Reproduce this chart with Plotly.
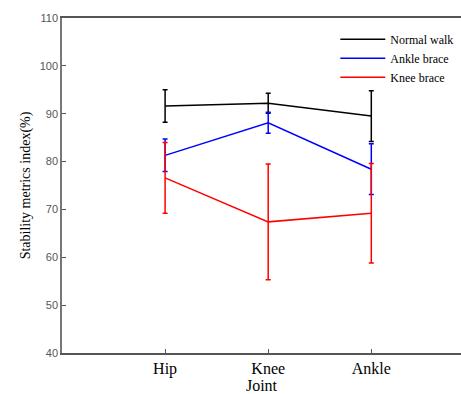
import plotly.graph_objects as go

joints = ["Hip", "Knee", "Ankle"]
x_pos = [1, 2, 3]

normal_mean = [91.6, 92.2, 89.5]
normal_err = [3.4, 2.1, 5.3]
ankle_mean = [81.3, 88.1, 78.4]
ankle_err = [3.4, 2.2, 5.3]
knee_mean = [76.6, 67.4, 69.2]
knee_err = [7.4, 12.1, 10.4]

series = [
    ("Normal walk", normal_mean, normal_err, "#000000"),
    ("Ankle brace", ankle_mean, ankle_err, "#0000ff"),
    ("Knee brace", knee_mean, knee_err, "#ff0000"),
]

fig = go.Figure()
for name, m, e, c in series:
    fig.add_trace(go.Scatter(
        x=x_pos, y=m, name=name, mode="lines",
        line=dict(color=c, width=1.5),
        error_y=dict(type="data", array=e, visible=True, color=c,
                     thickness=1.5, width=2.5),
    ))

serif = "Liberation Serif"
sans = "Liberation Sans"

fig.update_layout(
    width=461, height=394,
    margin=dict(l=62, r=0, t=18, b=41),
    paper_bgcolor="white", plot_bgcolor="white",
    font=dict(family=serif, size=12, color="#000"),
    showlegend=True,
    legend=dict(x=0.685, y=0.98, xanchor="left", yanchor="top",
                font=dict(family=serif, size=12, color="#000"),
                itemwidth=45,
                bgcolor="rgba(0,0,0,0)", borderwidth=0),
    xaxis=dict(range=[0, 3.87], tickvals=x_pos, ticktext=joints,
               ticks="inside", ticklen=4, tickcolor="#555",
               showline=True, linecolor="#555", linewidth=1.5, mirror=True,
               showgrid=False, zeroline=False,
               tickfont=dict(family=serif, size=16, color="#000"),
               title=dict(text="Joint", font=dict(family=serif, size=16, color="#000"),
                          standoff=2)),
    yaxis=dict(range=[40, 110], tickvals=[40, 50, 60, 70, 80, 90, 100, 110],
               ticks="inside", ticklen=4, tickcolor="#555",
               showline=True, linecolor="#777", linewidth=1.5,
               showgrid=False, zeroline=False,
               tickfont=dict(family=sans, size=11, color="#555"),
               title=dict(text="Stability metrics index(%)",
                          font=dict(family=serif, size=14, color="#000"),
                          standoff=6)),
)

fig.write_html("out.html")
